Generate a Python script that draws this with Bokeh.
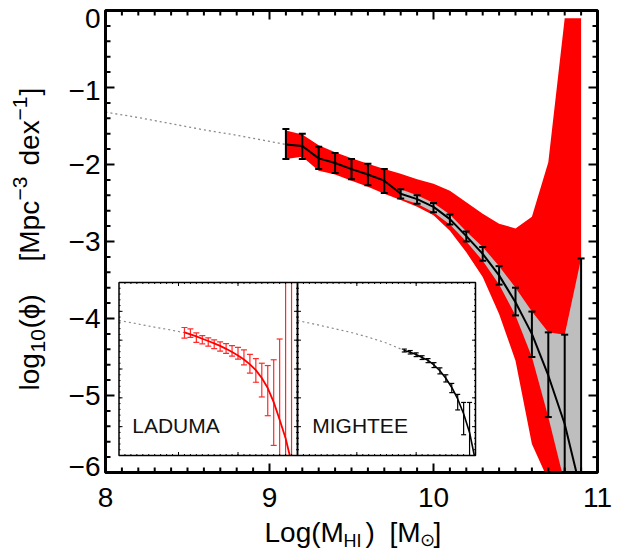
import math
import numpy as np
from bokeh.plotting import figure
from bokeh.models import Range1d
from bokeh.core.properties import value
from bokeh.embed import file_html
from bokeh.resources import INLINE

FONT = "Liberation Sans"

# ---------------- data ----------------
# combined HI mass function points (black)
mass = [9.1, 9.2, 9.3, 9.4, 9.5, 9.6, 9.7, 9.8, 9.9, 10.0,
        10.1, 10.2, 10.3, 10.4, 10.5, 10.6, 10.7, 10.8, 10.9]
phi = [-1.74, -1.76, -1.92, -1.98, -2.06, -2.13, -2.21, -2.38, -2.45, -2.55,
       -2.71, -2.93, -3.16, -3.44, -3.79, -4.20, -4.74, -5.37, -6.25]
phi_hi = [-1.54, -1.60, -1.77, -1.85, -1.93, -1.99, -2.06, -2.32, -2.40, -2.50,
          -2.65, -2.87, -3.07, -3.32, -3.60, -3.91, -4.18, -4.21, -3.22]
phi_lo = [-1.93, -1.93, -2.06, -2.11, -2.19, -2.27, -2.37, -2.44, -2.51, -2.62,
          -2.78, -3.00, -3.25, -3.56, -3.96, -4.50, -5.28, -6.14, -7.50]

# LADUMA uncertainty band (red)
band_hi = [-1.56, -1.61, -1.75, -1.84, -1.92, -1.99, -2.06, -2.12, -2.19, -2.25,
           -2.34, -2.49, -2.64, -2.77, -2.83, -2.68, -1.97, -0.10, -0.10]
band_lo = [-1.93, -1.90, -2.08, -2.13, -2.21, -2.29, -2.38, -2.46, -2.55, -2.66,
           -2.86, -3.14, -3.46, -3.94, -4.55, -5.63, -6.10, -7.50, -7.50]

# extrapolated Schechter function (dotted)
ext_mass = [8.0, 8.2, 8.4, 8.6, 8.8, 9.0, 9.1]
ext_phi = [-1.32, -1.39, -1.47, -1.55, -1.62, -1.70, -1.74]

# LADUMA inset
lad_hi = [-1.56, -1.61, -1.75, -1.84, -1.92, -1.99, -2.06, -2.12, -2.19, -2.25,
          -2.34, -2.49, -2.64, -2.80, -2.88, -2.68, -1.96, 0.50, 0.50]
lad_lo = [-1.93, -1.90, -2.08, -2.13, -2.21, -2.29, -2.38, -2.46, -2.55, -2.66,
          -2.86, -3.14, -3.46, -3.97, -4.62, -5.65, -6.10, -7.50, -7.50]
lad_fit_mass = [9.1, 9.2, 9.3, 9.4, 9.5, 9.6, 9.7, 9.8, 9.9, 10.0,
                10.1, 10.2, 10.3, 10.4, 10.5, 10.6, 10.7, 10.8, 10.87]
lad_fit_phi = [-1.73, -1.80, -1.87, -1.95, -2.03, -2.11, -2.20, -2.30, -2.41, -2.53,
               -2.67, -2.84, -3.04, -3.31, -3.66, -4.15, -4.76, -5.40, -6.00]

# MIGHTEE inset
mig_mass = [9.8, 9.9, 10.0, 10.1, 10.2, 10.3, 10.4, 10.5, 10.6, 10.7, 10.8, 10.9]
mig_hi = [-2.31, -2.36, -2.44, -2.54, -2.64, -2.78, -2.96, -3.20, -3.50, -3.88, -4.16, -4.16]
mig_lo = [-2.41, -2.48, -2.57, -2.67, -2.78, -2.95, -3.17, -3.45, -3.82, -4.42, -5.28, -6.50]
mig_fit_mass = [9.8, 9.9, 10.0, 10.1, 10.2, 10.3, 10.4, 10.5, 10.6, 10.7, 10.8, 10.9, 10.98]
mig_fit_phi = [-2.36, -2.42, -2.50, -2.60, -2.70, -2.86, -3.06, -3.32, -3.64, -4.04, -4.55, -5.20, -6.00]
mig_ext_mass = [8.0, 8.3, 8.6, 8.9, 9.2, 9.5, 9.8]
mig_ext_phi = [-1.32, -1.45, -1.59, -1.73, -1.90, -2.10, -2.36]

# axes
x_tick_values = [8, 9, 10, 11]
x_tick_labels = ["8", "9", "10", "11"]
y_tick_values = [0, -1, -2, -3, -4, -5, -6]
y_tick_labels = ["0", "\u22121", "\u22122", "\u22123", "\u22124", "\u22125", "\u22126"]
x_title = ["Log(M", "HI", ")", "[M", "\u2299", "]"]
y_title = ["log", "10", "(\u03d5)", "[Mpc", "\u22123", "dex", "\u22121", "]"]

RED = "#ff0000"
GREY = "#bebebe"

# ---------------- layout geometry (pixels of the 618x550 page) ----------------
W, H = 618, 550
FL, FR, FT, FB = 105, 597, 10, 472           # plot box
X0, X1, Y0, Y1 = 8.0, 11.0, -6.0, 0.0        # plotted ranges
SX = (FR - FL) / (X1 - X0)                   # px per x unit
SY = (FB - FT) / (Y1 - Y0)                   # px per y unit


def dx(px):          # page pixel column -> x data
    return X0 + (px - FL) / SX


def dy(py):          # page pixel row -> y data
    return Y1 - (py - FT) / SY


p = figure(width=W, height=H, x_range=Range1d(dx(0), dx(W)), y_range=Range1d(dy(H), dy(0)),
           output_backend="svg", toolbar_location=None, x_axis_location=None, y_axis_location=None,
           min_border=0, min_border_left=0, min_border_right=0, min_border_top=0, min_border_bottom=0)
p.grid.visible = False
p.outline_line_color = None
p.background_fill_color = "white"
p.border_fill_color = "white"

# ---------------- main data ----------------
p.line(ext_mass, ext_phi, line_color="#8a8a8a", line_width=1.3, line_dash="2 3")
p.varea(x=mass, y1=band_lo, y2=band_hi, fill_color=RED)
m = np.array(mass)
sel = m >= 9.8
p.varea(x=m[sel], y1=np.array(phi_lo)[sel], y2=np.array(phi_hi)[sel], fill_color=GREY)
p.line(mass, phi, line_color="black", line_width=2)
p.segment(x0=mass, y0=phi_lo, x1=mass, y1=phi_hi, line_color="black", line_width=2)
p.scatter(mass + mass, phi_lo + phi_hi, marker="dash", size=7, line_color="black", line_width=2)

# white masks outside the plot box (hide overflow of the data)
p.quad(left=[dx(-5), dx(-5), dx(-5), X1], right=[X0, dx(W + 5), dx(W + 5), dx(W + 5)],
       bottom=[dy(H + 5), dy(H + 5), Y1, dy(H + 5)], top=[dy(-5), Y0, dy(-5), dy(-5)],
       fill_color="white", line_color=None)

# ---------------- insets ----------------
lad = p.subplot(x_source=Range1d(8, 11), y_source=Range1d(-6, 0),
                x_target=Range1d(dx(118.5), dx(297)), y_target=Range1d(dy(455), dy(282)))
mig = p.subplot(x_source=Range1d(8, 11), y_source=Range1d(-6, 0),
                x_target=Range1d(dx(297), dx(475)), y_target=Range1d(dy(455), dy(282)))

DXI = 3.0 / 178.0   # inset x units per pixel
DYI = 6.0 / 173.0   # inset y units per pixel


def inset_ticks(sub):
    xmin = [round(v, 2) for v in np.arange(8.1, 10.95, 0.1)]
    ymin = [round(v, 2) for v in np.arange(-5.8, -0.05, 0.2)]
    xmaj = [9, 10]
    ymaj = [-5, -4, -3, -2, -1]
    for xs, L in ((xmin, 1.5), (xmaj, 3.5)):
        n = len(xs)
        sub.segment(x0=xs, y0=[-6] * n, x1=xs, y1=[-6 + L * DYI] * n, line_color="black", line_width=1)
        sub.segment(x0=xs, y0=[0] * n, x1=xs, y1=[-L * DYI] * n, line_color="black", line_width=1)
    for ys, L in ((ymin, 1.5), (ymaj, 3.5)):
        n = len(ys)
        sub.segment(x0=[8] * n, y0=ys, x1=[8 + L * DXI] * n, y1=ys, line_color="black", line_width=1)
        sub.segment(x0=[11] * n, y0=ys, x1=[11 - L * DXI] * n, y1=ys, line_color="black", line_width=1)
    sub.quad(left=[8], right=[11], bottom=[-6], top=[0], fill_color=None, line_color="black", line_width=1.5)


def errbars(sub, xs, lo, hi, color, width, cap):
    lo = np.array(lo)
    hi = np.array(hi)
    xs = np.array(xs)
    sub.segment(x0=xs, y0=np.clip(lo, -6, 0), x1=xs, y1=np.clip(hi, -6, 0), line_color=color, line_width=width)
    ok_lo = lo >= -6
    ok_hi = hi <= 0
    sub.scatter(np.concatenate([xs[ok_lo], xs[ok_hi]]), np.concatenate([lo[ok_lo], hi[ok_hi]]),
                marker="dash", size=cap, line_color=color, line_width=width)


for sub in (lad, mig):
    sub.quad(left=[8], right=[11], bottom=[-6], top=[0], fill_color="white", line_color=None)

# LADUMA inset
lad.line(ext_mass, ext_phi, line_color="#8a8a8a", line_width=1.2, line_dash="2 3")
errbars(lad, mass, lad_lo, lad_hi, "#ff2a2a", 1.2, 6)
lad.line(lad_fit_mass, lad_fit_phi, line_color=RED, line_width=1.8)
lad.text(x=[8.223], y=[-4.95], text=["LADUMA"], text_font=value(FONT), text_font_size="21px",
         text_color="#111111", text_baseline="middle", text_align="left")

# MIGHTEE inset
mig.line(mig_ext_mass, mig_ext_phi, line_color="#8a8a8a", line_width=1.2, line_dash="2 3")
errbars(mig, mig_mass, mig_lo, mig_hi, "black", 1.2, 5)
mig.line(mig_fit_mass, mig_fit_phi, line_color="black", line_width=1.6)
mig.text(x=[8.248], y=[-4.95], text=["MIGHTEE"], text_font=value(FONT), text_font_size="21px",
         text_color="#111111", text_baseline="middle", text_align="left")

for sub in (lad, mig):
    inset_ticks(sub)

# ---------------- main box, ticks ----------------
p.quad(left=[X0], right=[X1], bottom=[Y0], top=[Y1], fill_color=None, line_color="black", line_width=3)

x_minor = [round(v, 2) for v in np.arange(8.1, 10.95, 0.1) if abs(v - round(v)) > 1e-6]
y_minor = [round(v, 2) for v in np.arange(-5.8, -0.05, 0.2) if abs(v - round(v)) > 1e-6]
for xs, L in ((x_minor, 5), (x_tick_values, 9)):
    n = len(xs)
    p.segment(x0=xs, y0=[Y0] * n, x1=xs, y1=[Y0 + L / SY] * n, line_color="black", line_width=2)
    p.segment(x0=xs, y0=[Y1] * n, x1=xs, y1=[Y1 - L / SY] * n, line_color="black", line_width=2)
for ys, L in ((y_minor, 5), (y_tick_values, 9)):
    n = len(ys)
    p.segment(x0=[X0] * n, y0=ys, x1=[X0 + L / SX] * n, y1=ys, line_color="black", line_width=2)
    p.segment(x0=[X1] * n, y0=ys, x1=[X1 - L / SX] * n, y1=ys, line_color="black", line_width=2)

# tick labels
p.text(x=x_tick_values, y=[dy(497)] * len(x_tick_values), text=x_tick_labels,
       text_font=value(FONT), text_font_size="28px", text_color="black",
       text_align="center", text_baseline="middle")
y_label_rows = [18, 90, 164, 241, 318, 395, 466]          # label centres (page rows)
p.text(x=[dx(100)] * len(y_tick_values), y=[dy(r) for r in y_label_rows], text=y_tick_labels,
       text_font=value(FONT), text_font_size="28px", text_color="black",
       text_align="right", text_baseline="middle")

# y axis title: rotated pieces (normal, subscript, superscript)
yt_rows = [390, 352, 328, 261, 200, 165, 120, 95]          # start of each piece (page rows)
yt_cols = [29, 37, 29, 29, 19, 29, 19, 29]
yt_sizes = ["28px", "21px", "28px", "28px", "21px", "28px", "21px", "28px"]
for t, r, c, s in zip(y_title, yt_rows, yt_cols, yt_sizes):
    p.text(x=[dx(c)], y=[dy(r)], text=[t], angle=math.pi / 2,
           text_font=value(FONT), text_font_size=s, text_color="black",
           text_align="left", text_baseline="middle")

# x axis title pieces
x_title_cols = [264, 343, 365, 389, 419, 433]
x_title_rows = [532, 540, 532, 532, 539, 532]
x_title_sizes = ["28px", "18px", "28px", "28px", "18px", "28px"]
for t, c, r, s in zip(x_title, x_title_cols, x_title_rows, x_title_sizes):
    p.text(x=[dx(c)], y=[dy(r)], text=[t], text_font=value(FONT), text_font_size=s,
           text_color="black", text_align="left", text_baseline="middle")

open("out.html", "w").write(file_html(p, INLINE))
